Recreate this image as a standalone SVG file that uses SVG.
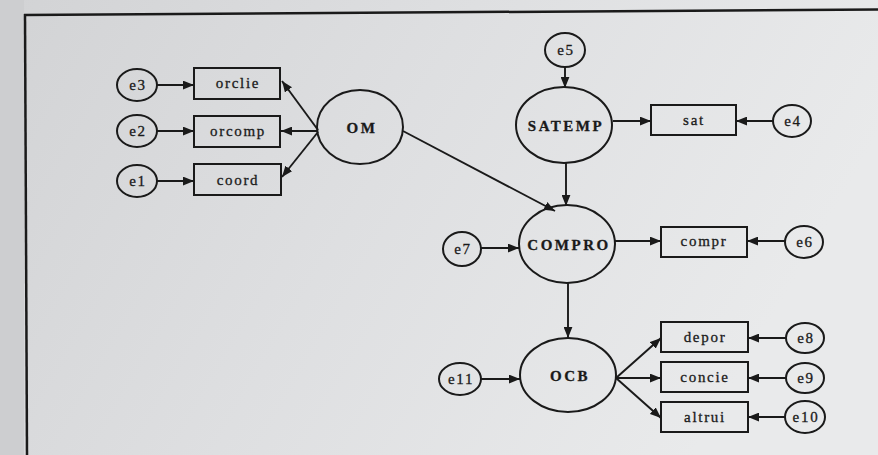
<svg xmlns="http://www.w3.org/2000/svg" width="878" height="455" viewBox="0 0 878 455">
<defs>
<linearGradient id="bg" x1="0" y1="0" x2="1" y2="0.3">
<stop offset="0" stop-color="#d2d3d5"/>
<stop offset="0.5" stop-color="#dedfe1"/>
<stop offset="1" stop-color="#e9eaeb"/>
</linearGradient>
<marker id="ah" viewBox="0 0 10 8" refX="10" refY="4" markerWidth="11" markerHeight="9" markerUnits="userSpaceOnUse" orient="auto">
<path d="M0,0 L10,4 L0,8 z" fill="#1a1a1a"/>
</marker>
<style>
.n ellipse,.n rect{fill:none;stroke:#1a1a1a;stroke-width:2}
.t{font-family:"Liberation Serif","DejaVu Serif","Times New Roman",serif;font-size:15px;letter-spacing:1.7px;fill:#1a1a1a;stroke:#1a1a1a;stroke-width:0.3;text-anchor:middle}
.b{font-weight:bold;letter-spacing:2.5px}
#edges line{stroke:#1a1a1a;stroke-width:1.9;marker-end:url(#ah)}
</style>
</defs>
<rect width="878" height="455" fill="url(#bg)"/>
<rect x="0" y="0" width="24" height="455" fill="#cdced0"/>
<g id="frame" stroke="#1a1a1a" stroke-width="2.5" fill="none">
<line x1="24" y1="15" x2="878" y2="9.5"/>
<line x1="25" y1="14" x2="27" y2="455"/>
</g>
<g id="edges">
<line x1="157" y1="85" x2="194" y2="85"/>
<line x1="157" y1="131" x2="194" y2="131"/>
<line x1="157" y1="181" x2="194" y2="181"/>
<line x1="318" y1="130" x2="282" y2="81"/>
<line x1="317" y1="131" x2="281" y2="131"/>
<line x1="318" y1="132" x2="282" y2="177"/>
<line x1="403" y1="131" x2="555" y2="211"/>
<line x1="565" y1="67" x2="565" y2="88"/>
<line x1="613" y1="121" x2="651" y2="121"/>
<line x1="773" y1="121" x2="736" y2="121"/>
<line x1="566" y1="163" x2="566" y2="206"/>
<line x1="481" y1="248" x2="519" y2="248"/>
<line x1="615" y1="241" x2="661" y2="241"/>
<line x1="785" y1="241" x2="747" y2="241"/>
<line x1="568" y1="283" x2="568" y2="338"/>
<line x1="481" y1="379" x2="520" y2="379"/>
<line x1="616" y1="378" x2="661" y2="338"/>
<line x1="616" y1="378" x2="661" y2="378"/>
<line x1="616" y1="378" x2="661" y2="418"/>
<line x1="786" y1="338" x2="748" y2="338"/>
<line x1="786" y1="378" x2="748" y2="378"/>
<line x1="786" y1="417" x2="748" y2="417"/>
</g>
<g id="e3" class="n"><ellipse cx="137" cy="85" rx="20" ry="16"/><text class="t" x="138" y="90">e3</text></g>
<g id="e2" class="n"><ellipse cx="137" cy="131" rx="20" ry="16"/><text class="t" x="138" y="136">e2</text></g>
<g id="e1" class="n"><ellipse cx="137" cy="181" rx="20" ry="16"/><text class="t" x="138" y="186">e1</text></g>
<g id="orclie" class="n"><rect x="194" y="68" width="86" height="31"/><text class="t" x="238" y="88">orclie</text></g>
<g id="orcomp" class="n"><rect x="194" y="116" width="86" height="31"/><text class="t" x="238" y="136">orcomp</text></g>
<g id="coord" class="n"><rect x="194" y="164" width="87" height="31"/><text class="t" x="238" y="185">coord</text></g>
<g id="OM" class="n"><ellipse cx="360" cy="127" rx="43" ry="37"/><text class="t b" x="362" y="133">OM</text></g>
<g id="e5" class="n"><ellipse cx="565" cy="50" rx="20" ry="17"/><text class="t" x="566" y="55">e5</text></g>
<g id="SATEMP" class="n"><ellipse cx="564" cy="125" rx="48" ry="38"/><text class="t b" x="566" y="131">SATEMP</text></g>
<g id="sat" class="n"><rect x="651" y="105" width="85" height="30"/><text class="t" x="694" y="125">sat</text></g>
<g id="e4" class="n"><ellipse cx="792" cy="121" rx="19" ry="16"/><text class="t" x="793" y="126">e4</text></g>
<g id="e7" class="n"><ellipse cx="462" cy="249" rx="19" ry="17"/><text class="t" x="463" y="254">e7</text></g>
<g id="COMPRO" class="n"><ellipse cx="567" cy="244" rx="48" ry="39"/><text class="t b" x="569" y="250">COMPRO</text></g>
<g id="compr" class="n"><rect x="661" y="227" width="86" height="30"/><text class="t" x="704" y="246">compr</text></g>
<g id="e6" class="n"><ellipse cx="804" cy="242" rx="19" ry="16"/><text class="t" x="805" y="247">e6</text></g>
<g id="e11" class="n"><ellipse cx="460" cy="379" rx="21" ry="16"/><text class="t" x="461" y="384">e11</text></g>
<g id="OCB" class="n"><ellipse cx="568" cy="375" rx="48" ry="37"/><text class="t b" x="570" y="381">OCB</text></g>
<g id="depor" class="n"><rect x="661" y="322" width="87" height="30"/><text class="t" x="705" y="342">depor</text></g>
<g id="concie" class="n"><rect x="661" y="362" width="87" height="30"/><text class="t" x="705" y="382">concie</text></g>
<g id="altrui" class="n"><rect x="661" y="402" width="87" height="30"/><text class="t" x="705" y="422">altrui</text></g>
<g id="e8" class="n"><ellipse cx="805" cy="338" rx="19" ry="15"/><text class="t" x="806" y="343">e8</text></g>
<g id="e9" class="n"><ellipse cx="805" cy="378" rx="19" ry="15"/><text class="t" x="806" y="383">e9</text></g>
<g id="e10" class="n"><ellipse cx="805" cy="417" rx="20" ry="16"/><text class="t" x="806" y="422">e10</text></g>
</svg>
